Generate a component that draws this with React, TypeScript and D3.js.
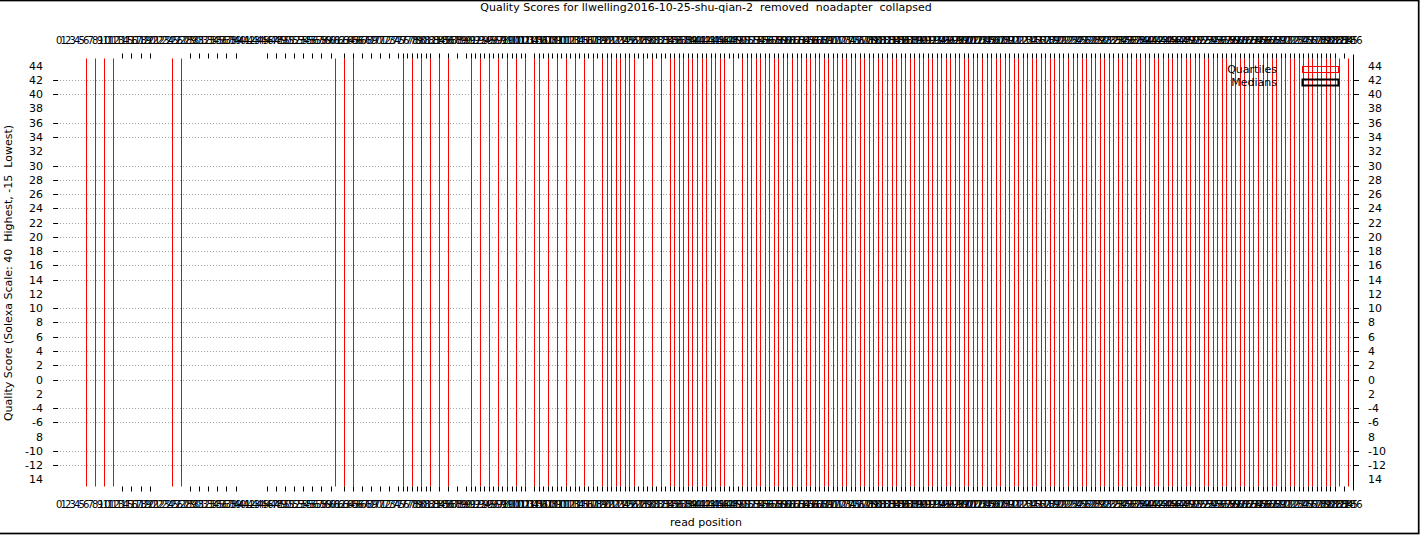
import React from "react";
import * as d3 from "d3";

const title = "Quality Scores for llwelling2016-10-25-shu-qian-2  removed  noadapter  collapsed";
const xLabel = "read position";
const yLabel = "Quality Score (Solexa Scale: 40  Highest, -15  Lowest)";

const xDomain: [number, number] = [0, 286];
const yDomain: [number, number] = [-15, 45];

// read position labels (one per row, 0..286)
const xTickLabels: number[] = d3.range(0, 287);

// rows whose x tick is visible
const xTickRows: number[] = [
  14, 16, 18, 20, 29, 31, 33, 35, 37, 39, 46, 48, 50, 52, 54, 56, 58, 60, 63, 65, 67, 69, 71, 73, 75, 76, 77, 78,
  79, 80, 81, 82, 84, 86, 88, 90, 91, 92, 93, 94, 95, 96, 97, 98, 99, 100, 101, 102, 103, 105, 106, 107, 108, 109,
  110, 111, 112, 113, 114, 115, 116, 117, 118, 119, 120, 121, 122, 123, 124, 125, 126, 127, 128, 129, 130, 131, 132,
  133, 134, 135, 136, 137, 138, 139, 140, 141, 142, 143, 144, 145, 146, 147, 148, 149, 150, 151, 152, 153, 154, 155,
  156, 157, 158, 159, 160, 161, 162, 163, 164, 165, 166, 167, 168, 169, 170, 171, 172, 173, 174, 175, 176, 177, 178,
  179, 180, 181, 182, 183, 184, 185, 186, 187, 188, 189, 190, 191, 192, 193, 194, 195, 196, 197, 198, 199, 200, 201,
  202, 203, 204, 205, 206, 207, 208, 209, 210, 211, 212, 213, 214, 215, 216, 217, 218, 219, 220, 221, 222, 223, 224,
  225, 226, 227, 228, 229, 230, 231, 232, 233, 234, 235, 236, 237, 238, 239, 240, 241, 242, 243, 244, 245, 246, 247,
  248, 249, 250, 251, 252, 253, 254, 255, 256, 257, 258, 259, 260, 261, 262, 263, 264, 265, 266, 267, 268, 269, 270,
  271, 272, 273, 274, 275, 276, 277, 278, 279, 280, 281, 282, 284,
];

// rows whose quartile candlestick is drawn (spans beyond the y range)
const quartileRows: number[] = [
  6, 8, 10, 12, 25, 27, 61, 63, 65, 76, 78, 80, 82, 84, 86, 91, 93, 95, 97, 99, 101, 103, 105, 106, 108, 110, 112,
  114, 116, 118, 120, 121, 122, 123, 124, 125, 126, 127, 129, 131, 133, 135, 136, 137, 138, 139, 140, 141, 142, 143,
  144, 145, 146, 147, 149, 151, 152, 153, 154, 155, 156, 157, 158, 159, 160, 161, 162, 163, 164, 165, 166, 167, 168,
  169, 170, 171, 172, 173, 174, 175, 176, 177, 178, 179, 180, 181, 182, 183, 184, 185, 186, 187, 188, 189, 190, 191,
  192, 193, 194, 195, 196, 197, 198, 199, 200, 201, 202, 203, 204, 205, 206, 207, 208, 209, 210, 211, 212, 213, 214,
  215, 216, 217, 218, 219, 220, 221, 222, 223, 224, 225, 226, 227, 228, 229, 230, 231, 232, 233, 234, 235, 236, 237,
  238, 239, 240, 241, 242, 243, 244, 245, 246, 247, 248, 249, 250, 251, 252, 253, 254, 255, 256, 257, 258, 259, 260,
  261, 262, 263, 264, 265, 266, 267, 268, 269, 270, 271, 272, 273, 274, 275, 276, 277, 278, 279, 280, 281, 282, 283,
  285,
];

const yTickValues: number[] = [44, 42, 40, 38, 36, 34, 32, 30, 28, 26, 24, 22, 20, 18, 16, 14, 12, 10, 8, 6, 4, 2, 0, -2, -4, -6, -8, -10, -12, -14];
const yTickTexts: string[] = ["44", "42", "40", "38", "36", "34", "32", "30", "28", "26", "24", "22", "20", "18", "16", "14", "12", "10", "8", "6", "4", "2", "0", "2", "-4", "-6", "8", "-10", "-12", "14"];
const yGridValues: number[] = [42, 40, 36, 34, 30, 28, 26, 24, 22, 20, 18, 16, 14, 10, 8, 6, 4, 2, 0, -4, -6, -10, -12];

const legendItems = [
  { label: "Quartiles", color: "#ff0000", width: 1 },
  { label: "Medians", color: "#000000", width: 2 },
];

const W = 1421;
const H = 535;
const FONT = "'DejaVu Sans', sans-serif";

export default function App() {
  const x = d3.scaleLinear().domain(xDomain).range([59.1, 1353]);
  const y = d3.scaleLinear().domain(yDomain).range([486.5, 58.5]);
  const left = x(xDomain[0]);
  const right = x(xDomain[1]);
  const top = y(yDomain[1]);
  const bottom = y(yDomain[0]);
  const px = (v: number) => Math.round(x(v)) + 0.5;
  const py = (v: number) => Math.round(y(v)) + 0.5;

  return (
    <svg
      width={W}
      height={H}
      style={{ position: "absolute", left: 0, top: 0, background: "#fff" }}
      fontFamily={FONT}
    >
      <rect x={0} y={0} width={W} height={H} fill="#fff" />
      {/* grid */}
      {yGridValues.map((v) => (
        <line key={"g" + v} x1={left + 1} x2={right} y1={py(v)} y2={py(v)} stroke="#a0a0a0" strokeWidth={1} strokeDasharray="1,2" />
      ))}
      {/* y ticks */}
      {yGridValues.map((v) => (
        <g key={"yt" + v}>
          <line x1={left - 6} x2={left - 1} y1={py(v)} y2={py(v)} stroke="#000" />
          <line x1={right} x2={right + 6} y1={py(v)} y2={py(v)} stroke="#000" />
        </g>
      ))}
      {/* quartile lines */}
      {quartileRows.map((r) => (
        <line key={"q" + r} x1={px(r)} x2={px(r)} y1={top} y2={bottom} stroke="#ff0000" strokeWidth={1} />
      ))}
      {/* x ticks top and bottom */}
      {xTickRows.map((r) => (
        <g key={"xt" + r}>
          <line x1={px(r)} x2={px(r)} y1={top - 5} y2={top} stroke="#000" />
          <line x1={px(r)} x2={px(r)} y1={bottom} y2={bottom + 5} stroke="#000" />
        </g>
      ))}
      {/* right border */}
      <line x1={Math.round(right) + 0.5} x2={Math.round(right) + 0.5} y1={top - 4} y2={bottom + 4} stroke="#000" />
      {/* x tick labels */}
      {xTickLabels.map((v) => (
        <g key={"xl" + v} fontSize={10} textAnchor="middle" fill="#000">
          <text x={x(v)} y={44}>{v}</text>
          <text x={x(v)} y={508}>{v}</text>
        </g>
      ))}
      {/* y tick labels */}
      {yTickValues.map((v, i) => (
        <g key={"yl" + v} fontSize={11} fill="#000">
          <text x={43} y={y(v) + 4} textAnchor="end">{yTickTexts[i]}</text>
          <text x={1368} y={y(v) + 4} textAnchor="start">{yTickTexts[i]}</text>
        </g>
      ))}
      {/* title */}
      <text x={706} y={11} fontSize={11} textAnchor="middle" fill="#000" style={{ whiteSpace: "pre" }}>{title}</text>
      {/* x label */}
      <text x={706} y={526} fontSize={11} textAnchor="middle" fill="#000">{xLabel}</text>
      {/* y label */}
      <text transform={`translate(12, ${273}) rotate(-90)`} fontSize={11} textAnchor="middle" fill="#000" style={{ whiteSpace: "pre" }}>{yLabel}</text>
      {/* legend */}
      {legendItems.map((it, i) => {
        const cy = 69.5 + i * 13;
        return (
          <g key={it.label}>
            <text x={1277} y={cy + 3.5} fontSize={11} textAnchor="end" fill="#000">{it.label}</text>
            <rect x={1302.5} y={cy - 3} width={36} height={6} fill="none" stroke={it.color} strokeWidth={it.width} />
          </g>
        );
      })}
      {/* outer frame */}
      <rect x={-5} y={0.5} width={1423.7} height={533} fill="none" stroke="#000" strokeWidth={1.7} />
    </svg>
  );
}
